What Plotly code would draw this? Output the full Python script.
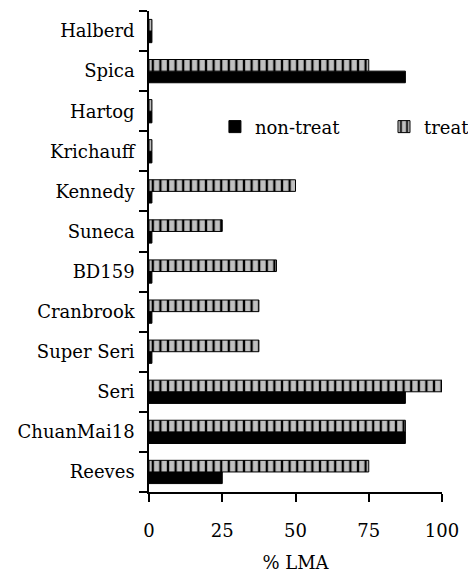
import plotly.graph_objects as go

categories = ["Reeves", "ChuanMai18", "Seri", "Super Seri", "Cranbrook", "BD159",
              "Suneca", "Kennedy", "Krichauff", "Hartog", "Spica", "Halberd"]
non_treat = [25, 87.5, 87.5, 1, 1, 1, 1, 1, 1, 1, 87.5, 1]
treat = [75, 87.5, 100, 37.5, 37.5, 43.5, 25, 50, 1, 1, 75, 1]
x_ticks = [0, 25, 50, 75, 100]

FONT = "DejaVu Serif"
FS = 18

fig = go.Figure()
fig.add_trace(go.Bar(
    y=categories, x=non_treat, orientation="h", name="non-treat",
    marker=dict(color="black", line=dict(color="black", width=1)),
    legend="legend",
))
fig.add_trace(go.Bar(
    y=categories, x=treat, orientation="h", name="treat",
    marker=dict(color="#c0c0c0", line=dict(color="black", width=1),
                pattern=dict(shape="|", fgcolor="black", bgcolor="#c0c0c0",
                             size=7.6, solidity=0.3, fillmode="replace")),
    legend="legend2",
))

# page body has an 8px default margin, so the figure is 8px smaller and margins shifted
leg_common = dict(bgcolor="rgba(0,0,0,0)", font=dict(size=18, family=FONT),
                  yanchor="middle", y=0.759, xanchor="left")

fig.update_layout(
    width=468, height=569,
    margin=dict(l=141, r=34, t=3, b=85, autoexpand=False),
    paper_bgcolor="white", plot_bgcolor="white",
    barmode="group", bargap=0.42, bargroupgap=0,
    font=dict(family=FONT, size=FS, color="black"),
    legend=dict(x=0.225, **leg_common),
    legend2=dict(x=0.802, **leg_common),
    showlegend=True,
)
fig.update_xaxes(
    range=[0, 100], tickvals=x_ticks, ticktext=[str(v) for v in x_ticks],
    showline=True, linecolor="black", linewidth=1.5,
    ticks="outside", ticklen=8, tickcolor="black", tickwidth=1.5,
    showgrid=False, zeroline=False, ticklabelstandoff=14, automargin=False,
    title=dict(text="% LMA", standoff=16, font=dict(size=FS, family=FONT)),
    tickfont=dict(size=FS, family=FONT), fixedrange=True,
)
fig.update_yaxes(
    type="category", categoryorder="array", categoryarray=categories,
    showline=True, linecolor="black", linewidth=1.5,
    ticks="outside", ticklen=8, tickcolor="black", tickwidth=1.5,
    tickson="boundaries", showgrid=False, zeroline=False, automargin=False,
    ticklabelstandoff=9, tickfont=dict(size=FS, family=FONT), fixedrange=True,
)

fig.write_html("out.html")
